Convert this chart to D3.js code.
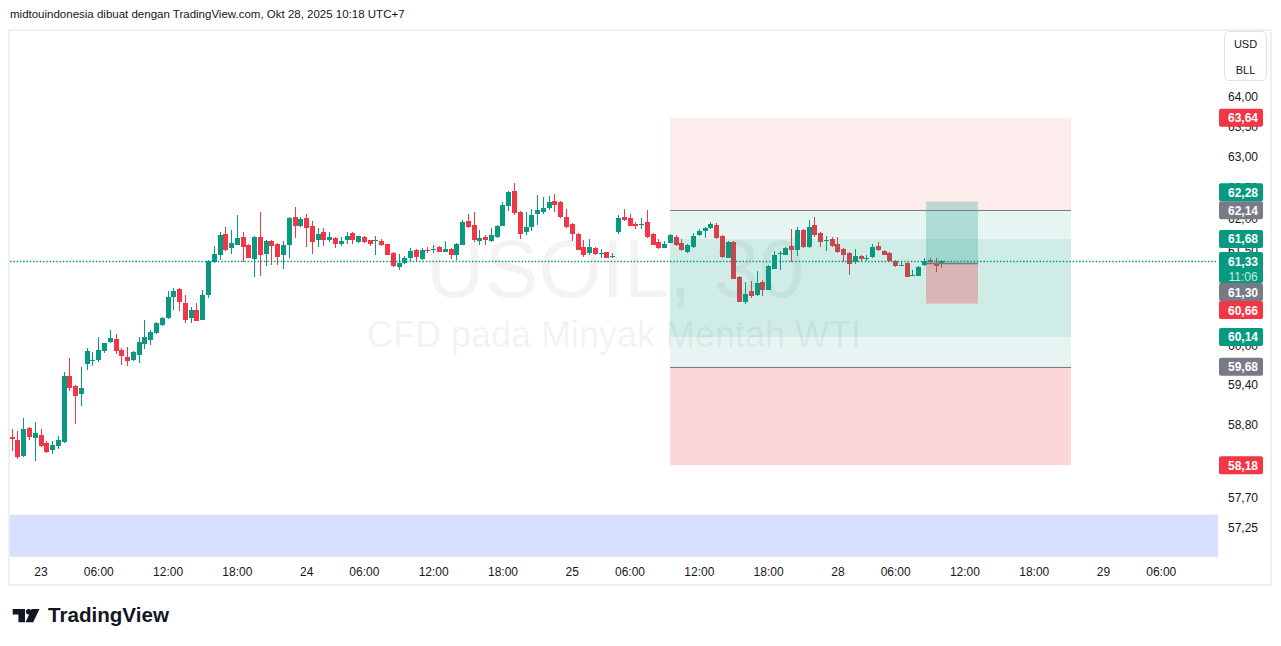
<!DOCTYPE html>
<html><head><meta charset="utf-8">
<script src="https://cdn.jsdelivr.net/npm/d3@7"></script>
<style>
body{margin:0;background:#fff;}
svg{display:block;font-family:"Liberation Sans",Arial,sans-serif;}
</style>
</head><body>
<svg id="c" width="1281" height="646"></svg>
<script>
// ---------- DATA ----------
const firstBarIndex = -5; // bar index of first candle (index 0 = 23 Oct 00:00, 30-min bars)
const opens = [58.61,58.56,58.32,58.74,58.59,58.64,58.52,58.41,58.47,58.53,59.54,59.38,59.26,59.72,59.77,59.78,59.92,60.06,60.11,59.94,59.83,59.78,59.86,60.03,60.09,60.20,60.33,60.44,60.77,60.89,60.67,60.44,60.56,60.41,60.80,61.32,61.43,61.76,61.54,61.59,61.71,61.59,61.36,61.71,61.44,61.65,61.60,61.43,61.59,62.03,61.89,62.02,61.89,61.67,61.79,61.67,61.70,61.60,61.67,61.78,61.63,61.71,61.67,61.66,61.65,61.60,61.46,61.24,61.30,61.38,61.51,61.36,61.50,61.51,61.55,61.47,61.52,61.43,61.59,61.97,61.90,61.65,61.71,61.65,61.71,61.89,62.21,62.45,62.11,61.79,61.87,62.08,62.11,62.18,62.29,62.27,62.03,61.92,61.76,61.55,61.46,61.54,61.45,61.47,61.40,61.79,62.03,62.02,61.92,61.91,61.95,61.76,61.63,61.54,61.62,61.71,61.62,61.47,61.55,61.75,61.81,61.86,61.90,61.73,61.38,61.63,61.08,60.69,60.85,60.80,61.00,60.88,61.21,61.45,61.43,61.57,61.51,61.82,61.55,61.90,61.78,61.66,61.68,61.60,61.52,61.46,61.32,61.41,61.37,61.39,61.57,61.49,61.46,61.33,61.26,61.30,61.10,61.10,61.27,61.35,61.28,61.29];
const highs = [58.73,58.70,58.90,58.75,58.84,58.73,58.55,58.55,58.62,59.60,59.82,59.40,59.68,59.97,59.91,60.14,60.05,60.25,60.19,59.97,59.99,59.92,60.14,60.41,60.25,60.37,60.45,60.85,60.91,60.90,60.80,60.61,60.67,60.88,61.34,61.57,61.79,61.87,61.83,62.06,61.79,61.60,61.73,62.11,61.66,61.67,61.61,61.65,62.03,62.19,62.03,62.08,61.97,61.86,61.86,61.79,61.71,61.71,61.79,61.79,61.73,61.73,61.67,61.73,61.68,61.60,61.47,61.44,61.41,61.54,61.52,61.54,61.55,61.59,61.57,61.65,61.53,61.62,61.98,62.08,62.11,61.82,61.75,61.86,61.90,62.27,62.45,62.58,62.12,62.11,62.16,62.38,62.35,62.37,62.40,62.28,62.16,61.93,61.77,61.67,61.68,61.55,61.52,61.48,61.46,62.06,62.16,62.08,61.95,62.02,62.14,61.77,61.68,61.65,61.76,61.75,61.68,61.60,61.78,61.84,61.87,61.95,61.94,61.74,61.64,61.64,61.09,61.00,61.02,61.17,61.03,61.26,61.49,61.49,61.55,61.84,61.87,61.84,61.98,62.03,61.79,61.73,61.71,61.71,61.53,61.47,61.52,61.43,61.43,61.60,61.63,61.50,61.47,61.34,61.32,61.31,61.19,61.25,61.38,61.38,61.38,61.35];
const lows = [58.40,58.27,58.30,58.56,58.24,58.46,58.37,58.35,58.43,58.52,59.31,58.80,59.08,59.63,59.69,59.75,59.89,60.05,59.88,59.70,59.69,59.77,59.74,59.95,60.02,60.19,60.31,60.42,60.56,60.55,60.36,60.36,60.38,60.40,60.75,61.30,61.35,61.49,61.44,61.58,61.32,61.37,61.08,61.10,61.25,61.27,61.27,61.21,61.38,61.70,61.87,61.55,61.44,61.55,61.57,61.63,61.54,61.57,61.60,61.60,61.62,61.62,61.57,61.43,61.57,61.42,61.24,61.19,61.28,61.32,61.32,61.35,61.46,61.46,61.47,61.47,61.36,61.35,61.58,61.86,61.63,61.59,61.59,61.63,61.70,61.88,62.13,62.06,61.68,61.75,61.81,61.90,62.08,62.14,62.11,62.02,61.86,61.65,61.50,61.39,61.43,61.43,61.38,61.37,61.38,61.76,61.97,61.88,61.84,61.84,61.70,61.58,61.52,61.53,61.61,61.57,61.49,61.46,61.54,61.73,61.70,61.84,61.68,61.38,61.37,61.04,60.68,60.66,60.75,60.78,60.78,60.87,61.20,61.19,61.42,61.32,61.41,61.54,61.54,61.71,61.55,61.49,61.56,61.46,61.32,61.11,61.28,61.33,61.33,61.38,61.49,61.42,61.32,61.24,61.25,61.07,61.10,61.09,61.25,61.30,61.16,61.22];
const closes = [58.58,58.30,58.73,58.61,58.67,58.47,58.38,58.49,58.56,59.54,59.35,59.23,59.35,59.92,59.78,59.94,60.05,60.12,59.92,59.85,59.77,59.91,60.06,60.14,60.22,60.36,60.44,60.77,60.86,60.69,60.41,60.56,60.39,60.80,61.33,61.44,61.75,61.51,61.62,61.70,61.55,61.38,61.71,61.43,61.65,61.57,61.39,61.59,62.02,61.89,62.00,61.86,61.63,61.76,61.67,61.71,61.60,61.65,61.73,61.67,61.73,61.63,61.60,61.67,61.59,61.43,61.25,61.30,61.38,61.49,61.39,61.51,61.49,61.52,61.47,61.52,61.43,61.60,61.95,61.87,61.67,61.70,61.67,61.75,61.89,62.22,62.43,62.10,61.76,61.87,62.06,62.14,62.18,62.27,62.22,62.03,61.87,61.76,61.51,61.43,61.55,61.44,61.46,61.38,61.41,62.02,61.98,61.89,61.89,61.92,61.71,61.59,61.54,61.60,61.75,61.59,61.51,61.59,61.73,61.81,61.86,61.92,61.70,61.39,61.63,61.05,60.69,60.81,60.78,60.99,60.88,61.25,61.43,61.46,61.54,61.51,61.82,61.55,61.87,61.75,61.63,61.67,61.57,61.47,61.43,61.28,61.41,61.36,61.38,61.55,61.51,61.43,61.33,61.25,61.27,61.08,61.11,61.24,61.33,61.32,61.25,61.33];

const xTickBars   = [0,10,22,34,46,56,68,80,92,102,114,126,138,148,160,172,184,194];
const xTickLabels = ["23","06:00","12:00","18:00","24","06:00","12:00","18:00","25","06:00","12:00","18:00","28","06:00","12:00","18:00","29","06:00"];
const yTicks = [64.00,63.50,63.00,62.50,62.00,61.50,61.00,60.50,60.00,59.40,58.80,58.20,57.70,57.25];

const lastPrice = 61.33;
const countdown = "11:06";

// position drawings: [short, long, small long]
const posStart  = [109, 109, 153.25];
const posEnd    = [178.4, 178.4, 162.25];
const posEntry  = [62.14, 59.68, 61.30];
const posStop   = [63.64, 58.18, 60.66];
const posTarget = [60.14, 61.68, 62.28];
const posTargetAlpha = [0.1, 0.1, 0.25];
const posStopAlpha   = [0.1, 0.2, 0.3];

const bandPrices = [56.82, 57.44];

const headerText = "midtouindonesia dibuat dengan TradingView.com, Okt 28, 2025 10:18 UTC+7";
const symbolText = "USOIL, 30";
const descText = "CFD pada Minyak Mentah WTI";

// ---------- LAYOUT ----------
const UP = "#089981", DOWN = "#f23645", GREY = "#787b86", TXT = "#131722";
const plot = {x0: 10, x1: 1218, y0: 31, y1: 558};
const svg = d3.select("#c");

const xs = d3.scaleLinear().domain([-5.37, 203.82]).range([plot.x0, plot.x1]);
const ys = d3.scaleLog().domain([64, 57.25]).range([96, 527.6]);
const fmt = v => d3.format(".2f")(v).replace(".", ",");

svg.append("rect").attr("width",1281).attr("height",646).attr("fill","#fff");

// header
svg.append("text").attr("x",10).attr("y",17.5).attr("font-size",11.5).attr("fill",TXT).text(headerText);

// frame
svg.append("rect").attr("x",9).attr("y",30).attr("width",1262).attr("height",555)
  .attr("fill","none").attr("stroke","#eef0f3").attr("stroke-width",2);

const defs = svg.append("defs");
defs.append("clipPath").attr("id","pc").append("rect")
  .attr("x",plot.x0).attr("y",plot.y0).attr("width",plot.x1-plot.x0).attr("height",plot.y1-plot.y0);

const g = svg.append("g").attr("clip-path","url(#pc)");

// watermark
g.append("text").attr("x",615).attr("y",297).attr("text-anchor","middle")
  .attr("font-size",81).attr("fill","rgba(120,123,134,0.09)").text(symbolText);
g.append("text").attr("x",614).attr("y",347).attr("text-anchor","middle")
  .attr("font-size",36).attr("fill","rgba(120,123,134,0.09)").text(descText);

// blue band
g.append("rect").attr("x",plot.x0).attr("width",plot.x1-plot.x0)
  .attr("y",ys(bandPrices[1])).attr("height",ys(bandPrices[0])-ys(bandPrices[1]))
  .attr("fill","rgba(41,98,255,0.19)");

// candles
const bars = opens.map((o,k)=>({i:firstBarIndex+k,o,h:highs[k],l:lows[k],c:closes[k]}));
const cg = g.append("g");
bars.forEach(b=>{
  const col = b.c >= b.o ? UP : DOWN;
  const cx = Math.round(xs(b.i)-0.5);
  const yh = Math.round(ys(b.h)), yl = Math.round(ys(b.l));
  cg.append("rect").attr("x",cx).attr("width",1).attr("y",yh).attr("height",Math.max(1,yl-yh)).attr("fill",col);
  const yt = Math.round(ys(Math.max(b.o,b.c))), yb = Math.round(ys(Math.min(b.o,b.c)));
  cg.append("rect").attr("x",cx-2).attr("width",5).attr("y",yt).attr("height",Math.max(1,yb-yt)).attr("fill",col);
});

// position drawings
const pg = g.append("g");
posEntry.forEach((e,k)=>{
  const x0 = Math.round(xs(posStart[k])), x1 = Math.round(xs(posEnd[k]));
  const ye = ys(e), yt = ys(posTarget[k]), ysl = ys(posStop[k]);
  pg.append("rect").attr("x",x0).attr("width",x1-x0)
    .attr("y",Math.min(ye,yt)).attr("height",Math.abs(yt-ye))
    .attr("fill",`rgba(8,153,129,${posTargetAlpha[k]})`);
  pg.append("rect").attr("x",x0).attr("width",x1-x0)
    .attr("y",Math.min(ye,ysl)).attr("height",Math.abs(ysl-ye))
    .attr("fill",`rgba(242,54,69,${posStopAlpha[k]})`);
});
posEntry.forEach((e,k)=>{
  const x0 = Math.round(xs(posStart[k])), x1 = Math.round(xs(posEnd[k]));
  const y = Math.round(ys(e))+0.5;
  pg.append("line").attr("x1",x0).attr("x2",x1).attr("y1",y).attr("y2",y)
    .attr("stroke",GREY).attr("stroke-width",k===2?1.5:1.2);
});

// last price dotted line
const yLast = Math.round(ys(lastPrice))+0.5;
g.append("line").attr("x1",plot.x0).attr("x2",plot.x1).attr("y1",yLast).attr("y2",yLast)
  .attr("stroke",UP).attr("stroke-width",1.4).attr("stroke-dasharray","1.5,1.8");

// right axis
const ax = svg.append("g").attr("font-size",12).attr("fill",TXT);
ax.append("rect").attr("x",1224.5).attr("y",31.5).attr("width",42).attr("height",49).attr("rx",4)
  .attr("fill","#fff").attr("stroke","#e0e3eb");
ax.append("text").attr("x",1245.5).attr("y",48).attr("text-anchor","middle").attr("font-size",11).text("USD");
ax.append("text").attr("x",1245.5).attr("y",74).attr("text-anchor","middle").attr("font-size",11).text("BLL");
yTicks.forEach(t=>{
  ax.append("text").attr("x",1243).attr("y",ys(t)+4.5).attr("text-anchor","middle").text(fmt(t));
});

// price tags with collision avoidance
const tags = [];
posEntry.forEach((e,k)=>{
  tags.push({p:posStop[k], col:DOWN});
  tags.push({p:posTarget[k], col:UP});
  tags.push({p:e, col:GREY});
});
const TH = 18;
const curTop = ys(lastPrice)-9, curBot = ys(lastPrice)+22;
const above = tags.filter(t=>ys(t.p) < ys(lastPrice)).sort((a,b)=>ys(b.p)-ys(a.p));
const below = tags.filter(t=>ys(t.p) >= ys(lastPrice)).sort((a,b)=>ys(a.p)-ys(b.p));
let lim = curTop;
above.forEach(t=>{ let c = ys(t.p); if (c+TH/2 > lim) c = lim-TH/2; t.y = c; lim = c-TH/2; });
lim = curBot;
below.forEach(t=>{ let c = ys(t.p); if (c-TH/2 < lim) c = lim+TH/2; t.y = c; lim = c+TH/2; });
const tg = svg.append("g").attr("font-size",12).attr("font-weight","bold");
[...above, ...below].forEach(t=>{
  tg.append("rect").attr("x",1219).attr("width",44).attr("y",t.y-TH/2).attr("height",TH).attr("rx",2).attr("fill",t.col);
  tg.append("text").attr("x",1243).attr("y",t.y+4.5).attr("text-anchor","middle").attr("fill","#fff").text(fmt(t.p));
});
tg.append("rect").attr("x",1219).attr("width",44).attr("y",curTop).attr("height",curBot-curTop).attr("rx",2).attr("fill",UP);
tg.append("text").attr("x",1243).attr("y",ys(lastPrice)+4.5).attr("text-anchor","middle").attr("fill","#fff").text(fmt(lastPrice));
tg.append("text").attr("x",1243).attr("y",ys(lastPrice)+20).attr("text-anchor","middle")
  .attr("font-weight","normal").attr("fill","rgba(255,255,255,0.8)").text(countdown);

// x axis labels
const xa = svg.append("g").attr("font-size",12).attr("fill",TXT);
xTickBars.forEach((b,k)=>{
  xa.append("text").attr("x",xs(b)).attr("y",576).attr("text-anchor","middle").text(xTickLabels[k]);
});

// footer logo
const lg = svg.append("g").attr("fill","#131722");
lg.append("path").attr("d","M12.7 609 H25 V622.3 H18.4 V614.4 H12.7 Z");
lg.append("circle").attr("cx",28.6).attr("cy",611.8).attr("r",2.7);
lg.append("path").attr("d","M31.5 609 H39.5 L33.2 622.3 H25.6 Z");
lg.append("text").attr("x",48).attr("y",622.3).attr("font-size",20.6).attr("font-weight","bold").text("TradingView");
</script>
</body></html>
